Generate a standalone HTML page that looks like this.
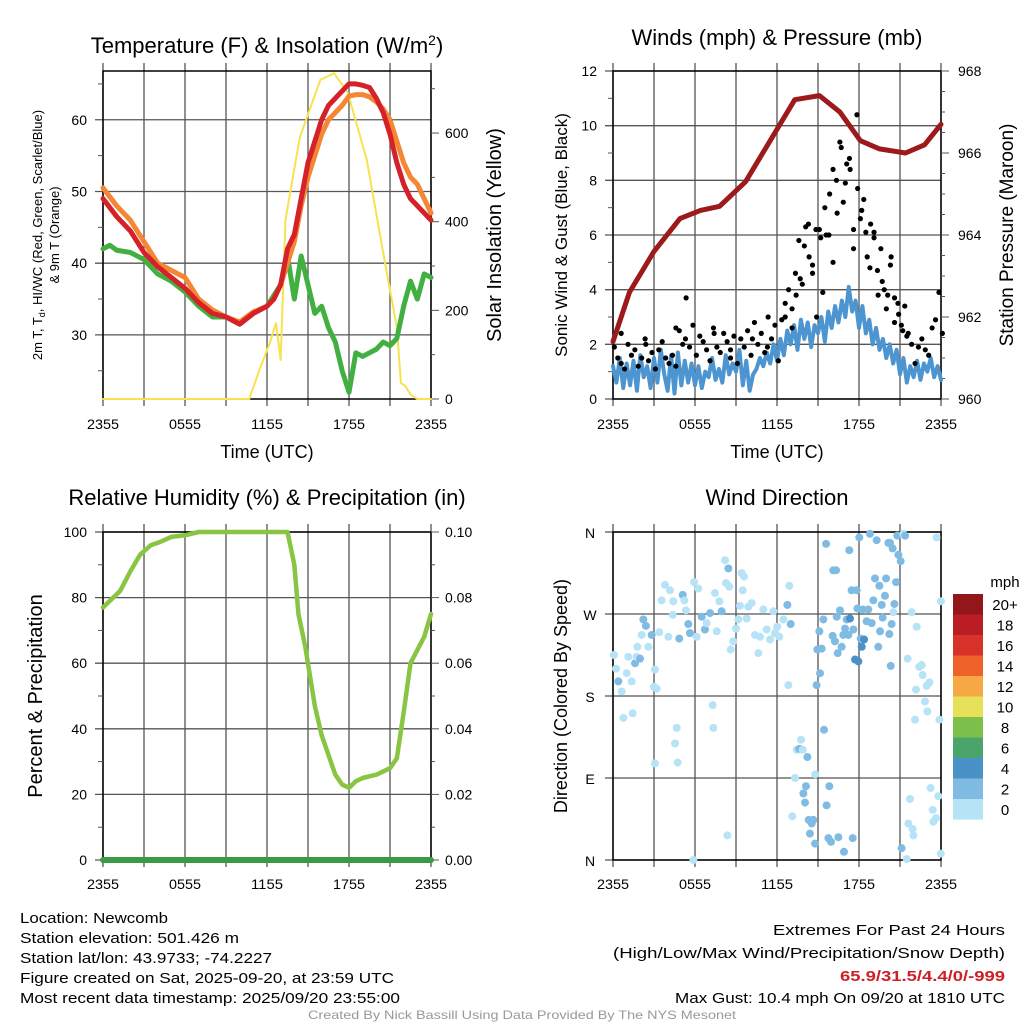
<!DOCTYPE html>
<html><head><meta charset="utf-8"><style>
html,body{margin:0;padding:0;background:#fff;}
svg{display:block;font-family:"Liberation Sans",sans-serif;}
</style></head><body>
<svg id="c" width="1024" height="1024" viewBox="0 0 1024 1024" xmlns="http://www.w3.org/2000/svg"></svg>
<script>
// ---------- DATA ----------
const tempTimes=[0,1,2,3,4,5,6,7,8,9,10,11,12,12.5,13,13.5,14,14.5,15,15.5,16,16.5,17,17.5,18,18.5,19,19.5,20,20.5,21,21.5,22,22.5,23,24];
const tempRed=[49,46.5,44.5,41.5,39.5,38,36.5,34.5,33,32.5,31.5,33,34,35,37,42,44,49,54,57,60,62,63,64,65,65,64.8,64.5,63,61,58,54,51,49,48,46];
const tempOrange=[50.5,48,46,43,40,39,38,35,33.5,32.5,31.8,33.2,34,35,37,40,43,48,52,55,58,60,61,62,63.3,63.5,63.5,63.2,62.5,61.5,60,57,54,52,51,47];
const dewTimes=[0,0.5,1,2,3,4,5,6,7,8,9,10,11,12,12.5,13,13.5,14,14.5,15,15.5,16,16.5,17,17.5,18,18.5,19,19.5,20,20.5,21,21.5,22,22.5,23,23.5,24];
const dewGreen=[42,42.5,41.8,41.5,40.5,38.5,37.5,36,34,32.5,32.5,31.5,33,34,35.5,37,41,35,41,37,33,34,31,29,25,22,27.5,27,27.5,28,29,28.5,29.5,34,37.5,35,38.5,38];
const solarTimes=[0,10.7,11.5,12.2,12.66,13.0,13.35,14.4,15.9,16.9,17.9,19.3,20.5,21.5,21.8,22.1,22.5,23,24];
const solarVals=[0,0,70,126,171,88,404,590,720,735,692,540,330,162,36,30,10,0,0];

const presTimes=[0,1.2,3,4.9,6.4,7.8,9.7,11.5,13.3,15.1,16.6,18.1,19.5,21.4,22.8,24];
const presVals=[961.4,962.6,963.6,964.4,964.6,964.7,965.3,966.3,967.3,967.4,967.0,966.3,966.1,966.0,966.2,966.7];
const windVals=[1.2,0.6,1.5,0.4,1.3,0.5,1.4,0.3,1.6,0.8,1.2,0.4,
1.5,0.6,1.8,0.9,0.3,1.6,0.2,1.7,0.5,1.4,0.6,1.3,
0.5,1.2,0.4,1.0,0.8,1.5,0.7,1.1,0.6,1.6,0.9,1.3,
1.0,1.8,0.5,1.4,0.3,0.9,1.1,1.5,1.2,1.7,1.3,2.0,
1.4,2.2,1.6,2.5,2.0,2.7,1.8,2.9,2.2,2.8,1.9,2.7,
2.4,3.0,2.1,3.2,2.6,3.4,2.8,3.6,3.0,4.1,3.2,3.6,
2.6,3.4,2.4,2.9,2.0,2.6,1.8,2.2,1.5,2.0,1.3,1.8,
0.9,1.5,0.6,1.2,0.8,1.4,0.7,1.3,1.0,1.5,0.8,1.2,0.7];
const gustVals=[1.9,1.5,1.3,1.1,2.0,1.6,1.8,1.2,1.5,2.2,1.4,1.7,
1.1,1.8,2.1,1.5,1.3,1.6,1.2,2.5,2.0,3.7,1.9,2.7,
1.6,2.3,2.1,1.8,1.4,2.6,1.9,1.7,2.4,2.1,1.5,2.3,
1.3,2.2,1.9,2.5,1.6,2.8,2.0,2.4,1.7,3.0,2.2,2.7,
1.4,2.9,3.5,4.0,3.3,4.6,5.8,4.2,6.3,5.2,4.6,6.2,
6.2,3.9,6.0,7.5,5.0,8.0,9.4,7.2,8.6,8.4,5.5,10.4,
6.6,7.3,5.2,6.4,6.1,4.7,5.5,4.0,3.8,5.2,3.7,3.5,
2.7,3.4,2.4,2.0,1.3,1.9,2.2,1.8,1.6,2.6,2.9,3.9,2.4];
const gustTimesB=[12.6,13.1,13.4,13.7,14.0,14.3,14.6,14.9,15.2,15.5,15.8,16.1,16.4,16.7,17.0,17.3,17.6,17.9,18.2,18.5,18.8,19.1,19.4,19.7,20.0,20.3,20.6,20.9,21.2,21.5,0.6,2.4,4.6,5.3,7.4,8.6,10.2,11.3];
const gustValsB=[3.0,2.6,3.8,4.4,5.6,6.4,4.9,3.0,5.9,7.0,6.0,8.4,6.8,9.2,7.9,8.8,6.2,7.7,6.9,6.1,4.8,5.9,3.8,4.3,3.3,4.9,2.8,3.1,2.5,2.3,2.4,2.0,2.6,2.2,2.4,1.8,2.2,1.9];

const rhTimes=[0,0.5,1.25,2,2.7,3.5,4.2,5,6,7,13,13.5,14,14.3,14.8,15.5,16,16.5,17,17.5,18,18.5,19,19.5,20,20.5,21,21.5,22,22.5,23,23.5,24];
const rhVals=[77,79,82,88,93,96,97,98.5,99,100,100,100,90,75,65,47,38,32,26,23,22,24,25,25.5,26,27,28,31,45,60,64,68,75];

const dirTimes=[0.07,0.22,0.39,0.63,0.76,1.0,1.12,1.37,1.44,1.61,1.73,1.78,1.98,2.1,2.22,2.41,2.59,2.83,3.07,3.0,3.2,3.07,3.39,3.56,3.8,4.05,4.17,4.37,4.41,4.66,4.54,4.73,4.85,5.1,5.22,5.34,5.51,5.63,5.93,6.12,6.24,6.49,6.73,6.85,7.1,7.29,7.34,7.46,7.59,7.78,7.95,8.2,8.27,8.37,8.44,8.51,8.61,8.8,9.0,9.17,9.29,9.41,9.49,9.59,9.78,9.9,10.15,10.39,10.63,10.76,11.0,11.24,11.49,11.73,11.85,12.02,12.17,12.46,12.76,12.83,12.9,13.0,5.88,
13.12,13.32,13.44,13.63,13.76,13.88,13.93,14.05,14.12,14.22,14.32,14.41,14.54,14.66,14.78,14.8,14.9,14.95,15.1,15.15,15.27,15.39,15.44,15.59,15.63,15.76,15.83,15.95,16.07,16.12,16.24,16.32,16.37,16.44,16.49,16.61,16.73,16.85,16.9,16.98,17.1,17.22,17.29,17.34,17.46,17.54,17.59,17.71,17.83,17.88,17.95,18.02,18.12,18.2,18.27,18.37,18.56,18.68,18.8,18.93,19.05,19.17,19.29,19.41,19.49,19.54,19.66,19.73,19.9,19.98,20.15,20.22,20.27,20.32,20.39,20.46,20.51,20.59,20.71,20.8,20.88,21.05,21.12,21.24,21.37,21.49,21.56,21.61,21.73,21.85,21.93,21.98,22.1,22.17,22.22,22.41,22.59,22.66,22.83,22.95,23.0,23.15,23.24,23.39,23.44,23.63,23.68,23.8,23.88,24.0,23.98];
const dirDegs=[225,210,196,185,156,205,223,196,161,216,223,234,221,247,264,257,234,247,209,190,188,106,250,285,302,245,296,269,284,145,128,107,243,291,285,274,259,249,305,245,298,267,253,260,271,170,145,293,251,284,273,329,304,27,320,300,231,240,254,264,279,315,296,311,265,278,282,247,227,245,275,253,242,273,249,256,245,264,280,192,301,259,0,
48,90,121,122,132,121,73,63,81,113,44,29,40,44,18,94,192,231,251,205,232,264,143,347,60,24,81,20,246,318,240,318,267,227,25,274,234,247,9,254,264,247,340,265,296,24,253,220,296,276,218,354,243,234,275,242,262,275,358,260,285,309,351,234,301,251,280,266,290,309,348,248,348,213,259,342,272,281,305,356,335,328,13,358,356,1,221,40,67,272,34,27,154,187,256,212,214,203,174,191,163,195,79,55,42,46,354,70,154,284,7];
const dirSpeeds=[1,1,3,1,1,1,1,1,1,3,1,1,3,1,3,3,1,3,1,1,1,1,1,1,1,1,1,1,1,1,1,1,3,3,1,1,3,3,1,1,1,3,3,1,3,1,1,1,1,1,3,1,1,1,3,1,1,1,1,1,1,1,1,1,1,1,1,1,1,1,1,1,1,1,1,1,1,1,3,1,1,3,1,
1,1,1,3,1,1,3,3,3,3,3,3,3,3,3,1,3,3,3,3,3,3,3,3,3,3,3,3,3,3,3,3,3,3,3,3,3,3,3,3,3,3,3,4.5,3,3,3,4.5,3,3,4.5,3,3,4.5,3,4.5,3,3,3,3,3,3,3,3,3,3,3,3,3,3,3,3,3,3,3,3,1,3,3,3,3,3,3,1,3,1,1,1,1,1,1,1,1,1,1,1,1,1,1,1,1,1,1,1,1,1,1,1,1,1,1,1,1,1,1];

const xTickLabels=["2355","0555","1155","1755","2355"];
const barLabels=["20+","18","16","14","12","10","8","6","4","2","0"];
const barColors=["#92161a","#bb1d24","#d8322a","#ee6229","#f5a843","#e6e05a","#7cc04b","#4aa56d","#4a91c8","#80bbe3","#b7e3f7"];

// ---------- DRAW ----------
const NS="http://www.w3.org/2000/svg";
const svg=document.getElementById('c');
function el(tag,attrs,parent,text){const e=document.createElementNS(NS,tag);for(const k in attrs)e.setAttribute(k,attrs[k]);if(text!==undefined)e.textContent=text;(parent||svg).appendChild(e);return e;}
const W=328,H=328;
function xs(x0){return t=>x0+t*W/24;}
function lin(y0,v0,v1){return v=>y0+H-(v-v0)/(v1-v0)*H;}
function txt(x,y,s,size,anchor,name,extra){const t=el('text',Object.assign({x:x,y:y,'font-size':size,'text-anchor':anchor||'start',fill:'#000'},extra||{}),svg,s);return t;}
function grid(x0,y0,hvals,yf,name){
  const g=el('g',{});
  for(let i=0;i<=8;i++){const x=x0+i*W/8;el('line',{x1:x,y1:y0-8,x2:x,y2:y0+H+7,stroke:'#555','stroke-width':1.3},g);}
  hvals.forEach(v=>{const y=yf(v);el('line',{x1:x0-8,y1:y,x2:x0+W,y2:y,stroke:'#555','stroke-width':1.3},g);});
  el('rect',{x:x0,y:y0,width:W,height:H,fill:'none',stroke:'#000','stroke-width':1.5},g);
}
function poly(ts,vs,xf,yf,color,w,name){const p=el('polyline',{points:ts.map((t,i)=>xf(t)+','+yf(vs[i])).join(' '),fill:'none',stroke:color,'stroke-width':w,'stroke-linejoin':'round','stroke-linecap':'round'});return p;}
function xlabels(x0,y,name){xTickLabels.forEach((s,i)=>txt(x0+i*W/4,y,s,14,'middle',name+'-x-tick-'+i,{textLength:32,lengthAdjust:'spacingAndGlyphs'}));}
function minor(x,y,len){el('line',{x1:x,y1:y,x2:x+len,y2:y,stroke:'#555','stroke-width':1});}

// Panel 1: temperature
{const x0=103,y0=71,xf=xs(x0),yf=lin(y0,21.06,66.8),yr=lin(y0,0,740);
grid(x0,y0,[30,40,50,60],yf,'temperature');
[25,35,45,55,65].forEach(v=>minor(x0-5,yf(v),5));
[0,200,400,600].forEach(v=>{minor(x0+W,yr(v),8);txt(445,yr(v)+5,String(v),14,'start','insolation-tick-'+v);});
[100,300,500,700].forEach(v=>minor(x0+W,yr(v),4));
[30,40,50,60].forEach(v=>txt(87,yf(v)+5,String(v),14,'end','temp-tick-'+v));
poly(solarTimes,solarVals,xf,yr,'#f8e250',2,'solar-insolation-line');
poly(dewTimes,dewGreen,xf,yf,'#41b041',5,'dewpoint-line');
poly(tempTimes,tempOrange,xf,yf,'#f58634',5,'temp-9m-line');
poly(tempTimes,tempRed,xf,yf,'#d52128',5,'temp-2m-line');
xlabels(x0,429,'temperature');
}
// Panel 2: winds
{const x0=613,y0=71,xf=xs(x0),yf=lin(y0,0,12),yp=lin(y0,960,968);
grid(x0,y0,[0,2,4,6,8,10,12],yf,'winds');
[0,2,4,6,8,10,12].forEach(v=>txt(597,yf(v)+5,String(v),14,'end','wind-tick-'+v));
[1,3,5,7,9,11].forEach(v=>minor(x0-5,yf(v),5));
[960,962,964,966,968].forEach(v=>{minor(x0+W,yp(v),8);txt(958,yp(v)+5,String(v),14,'start','pressure-tick-'+v);});
[960.5,961,961.5,962.5,963,963.5,964.5,965,965.5,966.5,967,967.5].forEach(v=>minor(x0+W,yp(v),4));
const wt=windVals.map((v,i)=>i*0.25);
poly(wt,windVals,xf,yf,'#4c95d0',4,'sonic-wind-line');
const gg=el('g',{});
gustVals.forEach((v,i)=>el('circle',{cx:xf(i*0.25+0.1),cy:yf(v),r:2.6,fill:'#000'},gg));
gustValsB.forEach((v,i)=>el('circle',{cx:xf(gustTimesB[i]),cy:yf(v),r:2.6,fill:'#000'},gg));
poly(presTimes,presVals,xf,yp,'#9c1a1c',5,'pressure-line');
xlabels(x0,429,'winds');
}
// Panel 3: RH
{const x0=103,y0=532,xf=xs(x0),yf=lin(y0,0,100);
grid(x0,y0,[0,20,40,60,80,100],yf,'humidity');
[0,20,40,60,80,100].forEach(v=>txt(87,yf(v)+5,String(v),14,'end','rh-tick-'+v));
[10,30,50,70,90].forEach(v=>minor(x0-5,yf(v),5));
['0.00','0.02','0.04','0.06','0.08','0.10'].forEach((s,i)=>{minor(x0+W,yf(i*20),8);txt(445,yf(i*20)+5,s,14,'start','precip-tick-'+i);});
[10,30,50,70,90].forEach(v=>minor(x0+W,yf(v),4));
poly(rhTimes,rhVals,xf,yf,'#8ac443',4.5,'humidity-line');
poly([0,24],[0,0],xf,yf,'#3b9a45',6,'precipitation-line');
xlabels(x0,889,'humidity');
}
// Panel 4: direction
{const x0=613,y0=532,xf=xs(x0),yf=lin(y0,0,360);
grid(x0,y0,[0,90,180,270,360],yf,'direction');
[['N',360],['W',270],['S',180],['E',90],['N',0]].forEach(a=>txt(590,yf(a[1])+6,a[0],14,'middle','dir-tick-'+a[0]+a[1]));
const dg=el('g',{});
function col(s){return barColors[10-Math.min(10,Math.floor(s/2))];}
dirTimes.forEach((t,i)=>el('circle',{cx:xf(t),cy:yf(dirDegs[i]),r:4,fill:col(dirSpeeds[i])},dg));
xlabels(x0,889,'direction');
// colorbar
const cb=el('g',{});
barColors.forEach((c,i)=>{el('rect',{x:953,y:594+i*20.5,width:30,height:20.6,fill:c},cb);txt(1005,594+i*20.5+16,barLabels[i],15,'middle','colorbar-label-'+barLabels[i]);});
txt(1005,587,'mph',15,'middle','colorbar-title');
}
// Titles & axis labels
txt(267,53,'Temperature (F) & Insolation (W/m',22,'middle','temperature-title').innerHTML='Temperature (F) &amp; Insolation (W/m<tspan dy="-8" font-size="14">2</tspan><tspan dy="8">)</tspan>';
txt(777,45,'Winds (mph) & Pressure (mb)',22,'middle','winds-title');
txt(267,505,'Relative Humidity (%) & Precipitation (in)',22,'middle','humidity-title');
txt(777,505,'Wind Direction',22,'middle','direction-title');
txt(267,458,'Time (UTC)',18,'middle','temperature-x-title');
txt(777,458,'Time (UTC)',18,'middle','winds-x-title');
txt(42,235,'2m T, Td, HI/WC (Red, Green, Scarlet/Blue)',13,'middle','temperature-y-title',{transform:'rotate(-90 42 235)'}).innerHTML='2m T, T<tspan font-size="9" dy="3">d</tspan><tspan dy="-3">, HI/WC (Red, Green, Scarlet/Blue)</tspan>';
txt(59,235,'& 9m T (Orange)',13,'middle','temperature-y-title-2',{transform:'rotate(-90 59 235)'});
txt(501,235,'Solar Insolation (Yellow)',20,'middle','insolation-y-title',{transform:'rotate(-90 501 235)'});
txt(567,235,'Sonic Wind & Gust (Blue, Black)',17,'middle','wind-y-title',{transform:'rotate(-90 567 235)'});
txt(1013,235,'Station Pressure (Maroon)',19,'middle','pressure-y-title',{transform:'rotate(-90 1013 235)'});
txt(42,696,'Percent & Precipitation',20,'middle','humidity-y-title',{transform:'rotate(-90 42 696)'});
txt(567,696,'Direction (Colored By Speed)',18,'middle','direction-y-title',{transform:'rotate(-90 567 696)'});
// Footer
const lf=[['Location: Newcomb',148],['Station elevation: 501.426 m',219],['Station lat/lon: 43.9733; -74.2227',252],['Figure created on Sat, 2025-09-20, at 23:59 UTC',374],['Most recent data timestamp: 2025/09/20 23:55:00',380]];
lf.forEach((a,i)=>txt(20,923+i*20,a[0],15,'start','footer-info-'+i,{textLength:a[1],lengthAdjust:'spacingAndGlyphs'}));
txt(1005,935,'Extremes For Past 24 Hours',15,'end','extremes-title',{textLength:232,lengthAdjust:'spacingAndGlyphs'});
txt(1005,958,'(High/Low/Max Wind/Precipitation/Snow Depth)',15,'end','extremes-subtitle',{textLength:392,lengthAdjust:'spacingAndGlyphs'});
txt(1005,981,'65.9/31.5/4.4/0/-999',15,'end','extremes-values',{fill:'#cc2027','font-weight':'bold',textLength:165,lengthAdjust:'spacingAndGlyphs'});
txt(1005,1003,'Max Gust: 10.4 mph On 09/20 at 1810 UTC',15,'end','max-gust',{textLength:330,lengthAdjust:'spacingAndGlyphs'});
txt(522,1019,'Created By Nick Bassill Using Data Provided By The NYS Mesonet',12,'middle','credit',{fill:'#999',textLength:428,lengthAdjust:'spacingAndGlyphs'});
</script>
</body></html>
